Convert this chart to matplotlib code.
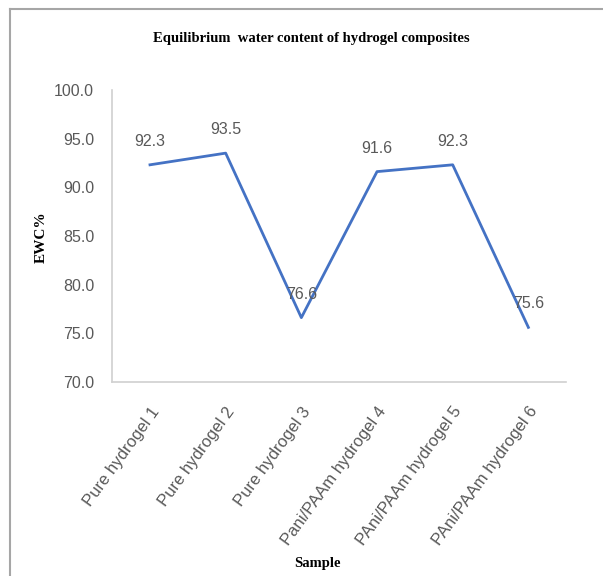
import matplotlib
matplotlib.use("Agg")
import matplotlib.pyplot as plt
from matplotlib.lines import Line2D

samples = ["Pure hydrogel 1", "Pure hydrogel 2", "Pure hydrogel 3",
           "Pani/PAAm hydrogel 4", "PAni/PAAm hydrogel 5", "PAni/PAAm hydrogel 6"]
ewc = [92.3, 93.5, 76.6, 91.6, 92.3, 75.6]
yticks = [70, 75, 80, 85, 90, 95, 100]

serif = "Liberation Serif"
sans = "Liberation Sans"
gray = "#595959"

fig = plt.figure(figsize=(6.03, 5.76), dpi=100)
ax = fig.add_axes([0.186, 0.337, 0.753, 0.507])

x = list(range(len(samples)))
ax.plot(x, ewc, color="#4472C4", linewidth=2.0)
for xi, v in zip(x, ewc):
    ax.annotate(f"{v:.1f}", (xi, v), xytext=(0, 17), textcoords="offset points",
                ha="center", va="center", fontsize=11.5, family=sans, color=gray)

ax.set_xlim(-0.5, len(samples) - 0.5)
ax.set_ylim(70, 100)
ax.set_yticks(yticks)
ax.set_yticklabels([f"{t:.1f}" for t in yticks], fontsize=11.5, family=sans, color=gray)
ax.set_xticks(x)
ax.set_xticklabels(samples, rotation=54, ha="right", rotation_mode="anchor",
                   fontsize=12, family=sans, color=gray)
ax.tick_params(length=0)
ax.tick_params(axis="x", pad=16)
ax.tick_params(axis="y", pad=13)

for side in ["top", "right"]:
    ax.spines[side].set_visible(False)
for side in ["left", "bottom"]:
    ax.spines[side].set_color("#d0d0d0")
    ax.spines[side].set_linewidth(1.2)

fig.text(0.516, 0.934, "Equilibrium  water content of hydrogel composites",
         ha="center", va="center", fontsize=10.5, family=serif, weight="bold")
fig.text(0.068, 0.588, "EWC%", rotation=90, ha="center", va="center",
         fontsize=11, family=serif, weight="bold")
fig.text(0.527, 0.021, "Sample", ha="center", va="center",
         fontsize=10.5, family=serif, weight="bold")

# frame of the pasted chart (left and top edges only)
fig.add_artist(Line2D([0.016, 0.016], [0, 0.984], color="#a6a6a6", linewidth=1.5,
                      transform=fig.transFigure))
fig.add_artist(Line2D([0.016, 1], [0.984, 0.984], color="#a6a6a6", linewidth=1.5,
                      transform=fig.transFigure))

fig.savefig("out.png", dpi=100)
